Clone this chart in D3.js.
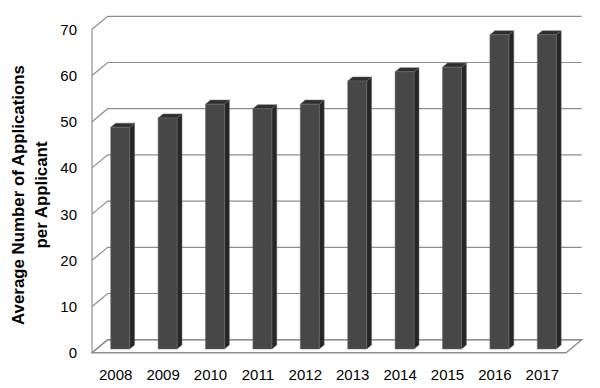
<!DOCTYPE html>
<html><head><meta charset="utf-8">
<script src="https://cdn.jsdelivr.net/npm/d3@7/dist/d3.min.js"></script>
<style>body{margin:0;background:#fff}svg{display:block}</style>
</head><body>
<svg id="c" width="600" height="388"></svg>
<script>
const years = ["2008","2009","2010","2011","2012","2013","2014","2015","2016","2017"];
const values = [48, 50, 53, 52, 53, 58, 60, 61, 68, 68];
const yTicks = [0, 10, 20, 30, 40, 50, 60, 70];
const yTitleLines = ["Average Number of Applications", "per Applicant"];

const svg = d3.select("#c");
const base = 352.7;            // front floor line
const depthX = 15.7, depthY = 13; // oblique offset at full depth
const x = d3.scaleBand().domain(years).range([92, 566]).paddingInner(0).paddingOuter(0);
const y = d3.scaleLinear().domain([0, 70]).range([0, 323.4]);
const P = (px, v, d) => [px + depthX * d, base - y(v) - depthY * d];

const font = "'Liberation Sans', Arial, sans-serif";
const grid = "#8e8e8e";

// floor
const [x0, x1] = x.range();
svg.append("polygon")
  .attr("points", [P(x0,0,0), P(x1,0,0), P(x1,0,1), P(x0,0,1)].map(p => p.join(",")).join(" "))
  .attr("fill", "#fff").attr("stroke", grid).attr("stroke-width", 1.4);

// gridlines on back wall and left wall
yTicks.forEach(t => {
  const a = P(x0, t, 0), b = P(x0, t, 1), c = P(x1, t, 1);
  svg.append("polyline").attr("points", [a, b, c].map(p => p.join(",")).join(" "))
    .attr("fill", "none").attr("stroke", grid).attr("stroke-width", 1.2);
});
// left wall front edge
svg.append("line")
  .attr("x1", x0).attr("x2", x0)
  .attr("y1", P(x0, 70, 0)[1]).attr("y2", base)
  .attr("stroke", grid).attr("stroke-width", 1.2);

// tick labels
yTicks.forEach(t => {
  svg.append("text").attr("x", 77).attr("y", P(x0, t, 0)[1])
    .attr("text-anchor", "end").attr("dominant-baseline", "central")
    .attr("font-family", font).attr("font-size", 15).attr("fill", "#000").text(t);
});

// bars
const bw = x.bandwidth() / 2.5;
const dF = 0.285, dB = 0.6;
years.forEach((yr, i) => {
  const v = values[i];
  const cx = x(yr) + x.bandwidth() / 2;
  const l = cx - bw / 2, r = cx + bw / 2;
  const g = svg.append("g");
  const poly = (pts, fill) => g.append("polygon")
    .attr("points", pts.map(p => p.join(",")).join(" "))
    .attr("fill", fill).attr("stroke", "#6a6a6a").attr("stroke-width", 0.5);
  // side
  poly([P(r, 0, dF), P(r, 0, dB), P(r, v, dB), P(r, v, dF)], "#262626");
  // top
  poly([P(l, v, dF), P(r, v, dF), P(r, v, dB), P(l, v, dB)], "#2f2f2f");
  // front
  poly([P(l, 0, dF), P(r, 0, dF), P(r, v, dF), P(l, v, dF)], "#474747");
});

// x labels
years.forEach(yr => {
  svg.append("text").attr("x", x(yr) + x.bandwidth() / 2).attr("y", 374)
    .attr("text-anchor", "middle").attr("dominant-baseline", "central")
    .attr("font-family", font).attr("font-size", 15).attr("fill", "#000").text(yr);
});

// y title
const tg = svg.append("g").attr("transform", "translate(30,195) rotate(-90)");
const lines = yTitleLines.map((s, i) => tg.append("text")
  .attr("x", 0).attr("y", (i - 0.5) * 23)
  .attr("text-anchor", "middle").attr("dominant-baseline", "central")
  .attr("font-family", font).attr("font-weight", "bold").attr("font-size", 18)
  .attr("fill", "#000").text(s));
const w = lines[0].node().getComputedTextLength();
const fs = 18 * 260 / w;
lines.forEach(t => t.attr("font-size", fs));
</script>
</body></html>
